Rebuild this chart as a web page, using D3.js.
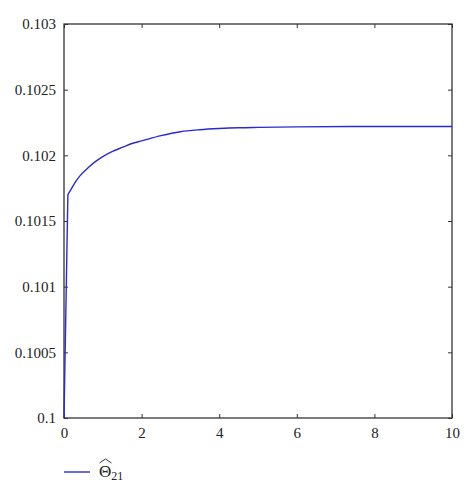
<!DOCTYPE html>
<html>
<head>
<meta charset="utf-8">
<script src="https://cdn.jsdelivr.net/npm/d3@7"></script>
<style>
  body { margin: 0; background: #fff; }
</style>
</head>
<body>
<svg id="chart" width="476" height="500"></svg>
<script>
// time values and estimated parameter values
const tValues = [0, 0.1, 0.2, 0.3, 0.4, 0.6, 0.8, 1, 1.25, 1.5, 1.75, 2, 2.5, 3, 3.5, 4, 4.5, 5, 6, 8, 10];
const thetaValues = [0.1, 0.10170, 0.10175, 0.10180, 0.10184, 0.10190, 0.10195, 0.10199, 0.10203, 0.10206,
                     0.10209, 0.10211, 0.10215, 0.10218, 0.102195, 0.102204, 0.10221, 0.102213,
                     0.102217, 0.10222, 0.10222];
const xTicks = [0, 2, 4, 6, 8, 10];
const yTicks = [0.1, 0.1005, 0.101, 0.1015, 0.102, 0.1025, 0.103];
const legendLabel = "Θ";
const legendSub = "21";

const FONT = "Liberation Serif";

let margin = {top: 24, right: 24, bottom: 82, left: 64},
    width = 476 - margin.left - margin.right,
    height = 500 - margin.top - margin.bottom;

let svg = d3.select("#chart");
let g = svg.append("g")
    .attr("transform", "translate(" + margin.left + "," + margin.top + ")");

let x = d3.scaleLinear().domain([0, 10]).range([0, width]);
let y = d3.scaleLinear().domain([0.1, 0.103]).range([height, 0]);

let data = tValues.map((t, i) => ({t: t, v: thetaValues[i]}));

// axes, ticks pointing inward like matlab
let styleAxis = sel => {
    sel.attr("font-family", FONT);
    sel.select(".domain").remove();
    sel.selectAll("line").attr("stroke", "#333");
    sel.selectAll("text")
        .attr("font-family", FONT)
        .attr("font-size", 15)
        .attr("fill", "#222");
};

g.append("g")
    .attr("transform", "translate(0," + height + ")")
    .call(d3.axisBottom(x).tickValues(xTicks).tickSizeInner(-4).tickSizeOuter(0).tickPadding(9).tickFormat(d3.format("d")))
    .call(styleAxis);

g.append("g")
    .call(d3.axisLeft(y).tickValues(yTicks).tickSizeInner(-4).tickSizeOuter(0).tickPadding(8).tickFormat(d => +d.toFixed(4)))
    .call(styleAxis);

// mirrored ticks on top and right
g.append("g")
    .call(d3.axisTop(x).tickValues(xTicks).tickSizeInner(-4).tickSizeOuter(0).tickFormat(""))
    .call(styleAxis);
g.append("g")
    .attr("transform", "translate(" + width + ",0)")
    .call(d3.axisRight(y).tickValues(yTicks).tickSizeInner(-4).tickSizeOuter(0).tickFormat(""))
    .call(styleAxis);

// box
g.append("rect")
    .attr("width", width)
    .attr("height", height)
    .attr("fill", "none")
    .attr("stroke", "#333")
    .attr("stroke-width", 1.3);

// the curve: straight jump at the start, smooth afterwards
let jump = d3.line().x(d => x(d.t)).y(d => y(d.v));
let smooth = d3.line().x(d => x(d.t)).y(d => y(d.v)).curve(d3.curveMonotoneX);

g.append("path")
    .datum(data)
    .attr("d", d => jump(d.slice(0, 2)) + "L" + smooth(d.slice(1)).slice(1))
    .attr("fill", "none")
    .attr("stroke", "#2a2ad2")
    .attr("stroke-width", 1.4);

// legend
let legend = svg.append("g").attr("transform", "translate(64,472)");
legend.append("line")
    .attr("x1", 0).attr("x2", 26)
    .attr("stroke", "#2a2ad2")
    .attr("stroke-width", 1.4);
let lt = legend.append("text")
    .attr("x", 35)
    .attr("y", 5)
    .attr("font-family", FONT)
    .attr("font-size", 17)
    .attr("fill", "#222");
lt.append("tspan").text(legendLabel);
lt.append("tspan").attr("dy", 3).attr("font-size", 12).text(legendSub);
// wide hat over the theta
legend.append("path")
    .attr("d", "M35.5,-9 L41.5,-13 L47.5,-9")
    .attr("fill", "none")
    .attr("stroke", "#222")
    .attr("stroke-width", 0.9);
</script>
</body>
</html>
